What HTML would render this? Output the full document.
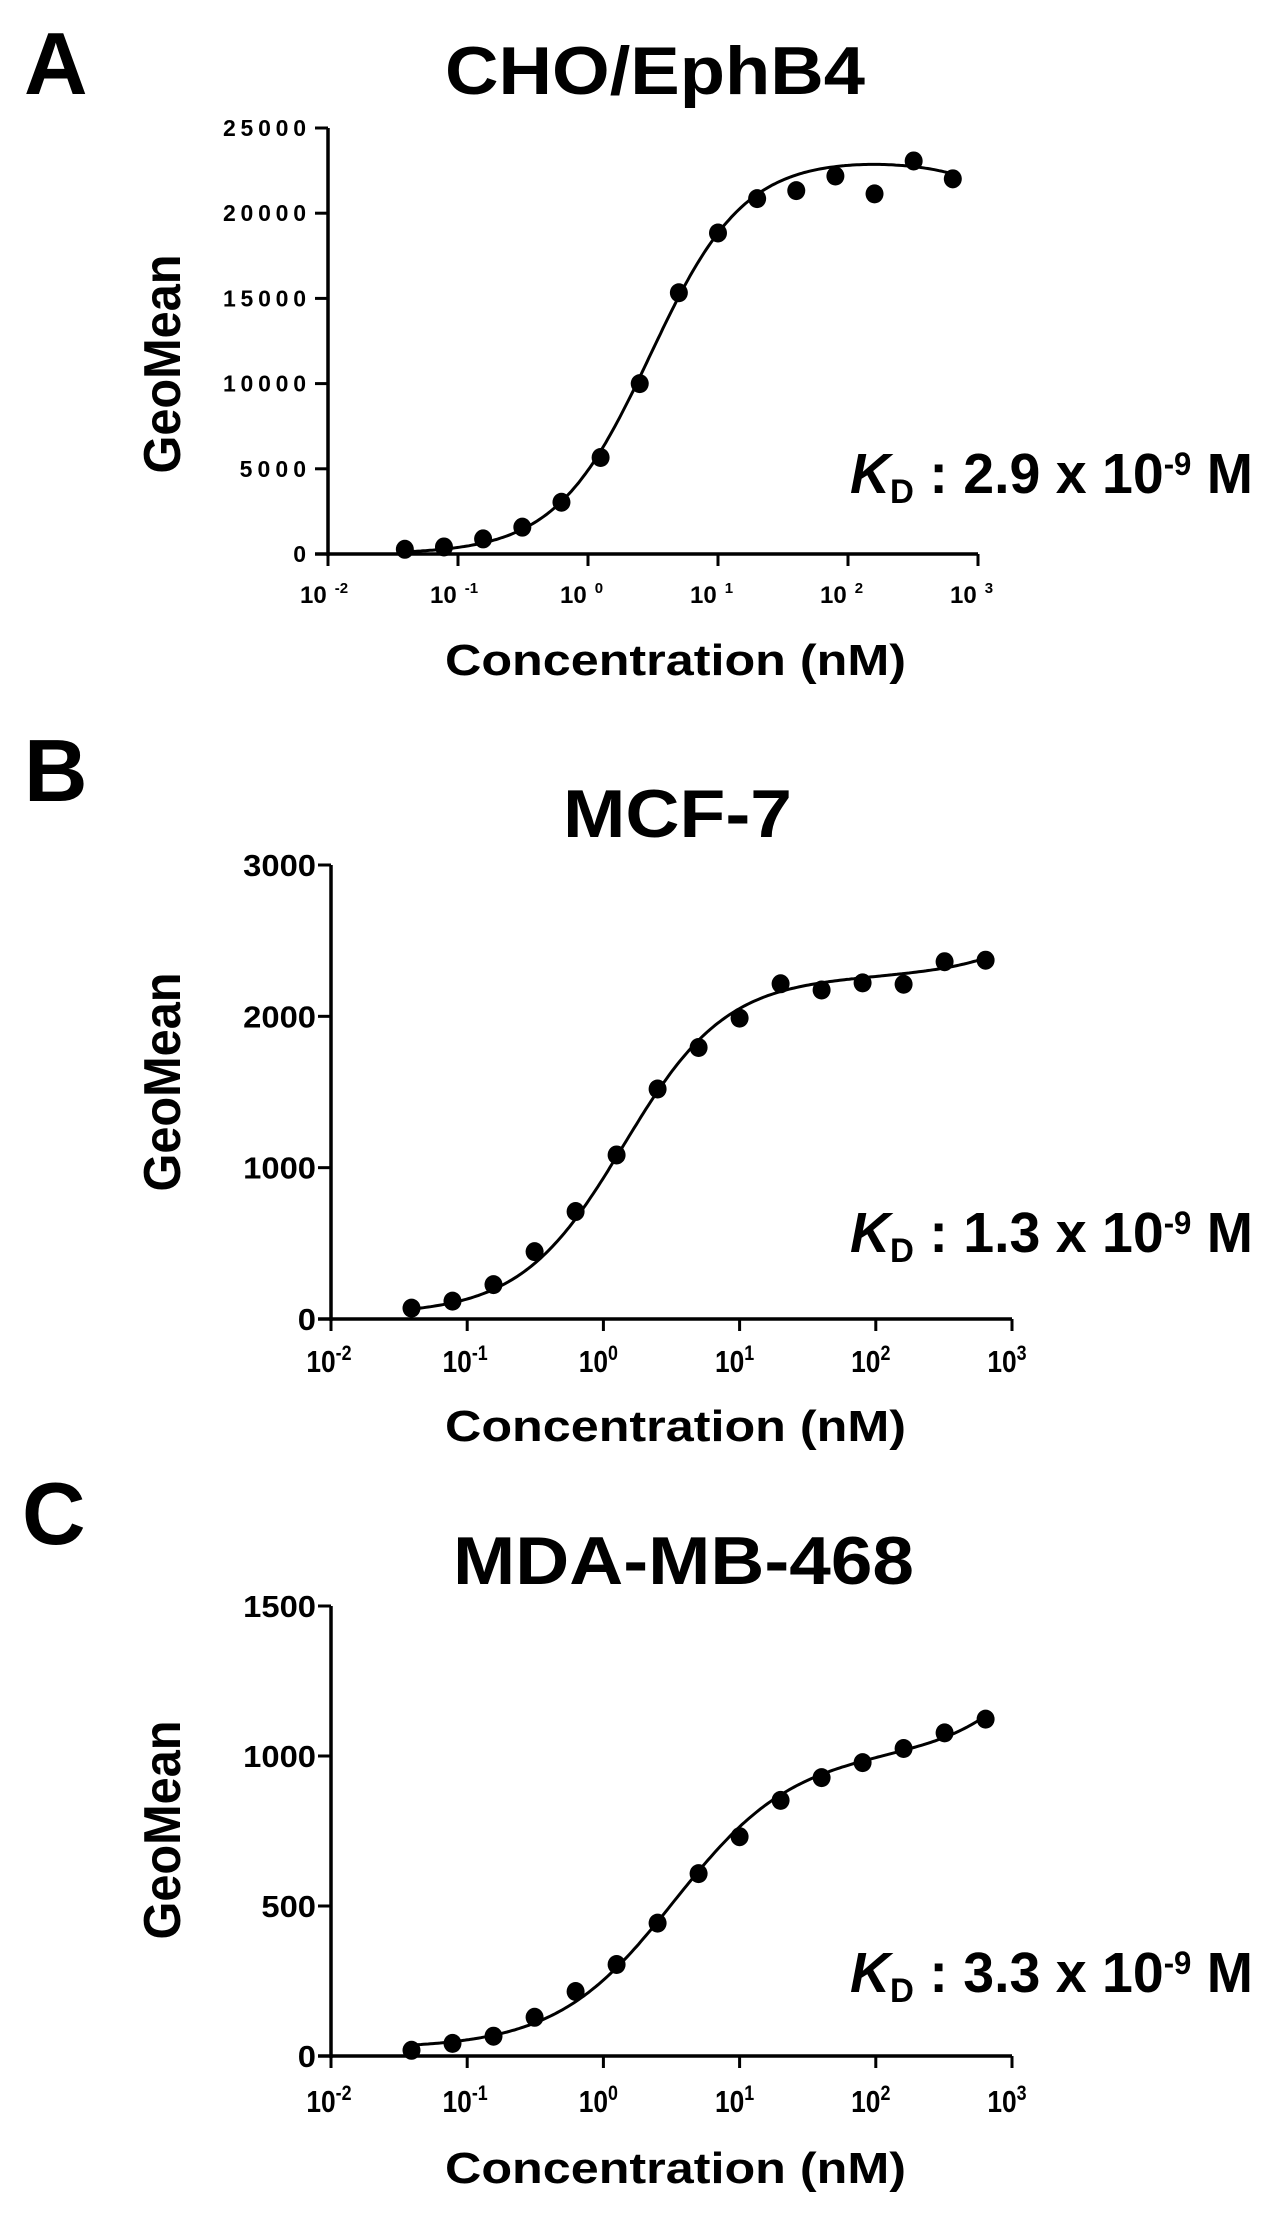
<!DOCTYPE html>
<html><head><meta charset="utf-8"><style>
html,body{margin:0;padding:0;background:#fff}
svg{display:block}
text{font-family:"Liberation Sans",sans-serif;font-weight:bold;fill:#000}
</style></head><body>
<svg id="fig" width="1279" height="2229" viewBox="0 0 1279 2229">
<text x="24" y="94" font-size="88">A</text>
<text x="24" y="801" font-size="88">B</text>
<text x="22" y="1544" font-size="88">C</text>
</svg>
<script>
// ---- data ----
const concA = [0.039,0.078,0.156,0.3125,0.625,1.25,2.5,5,10,20,40,80,160,320,640];
const valuesA = [276,414,884,1575,3039,5663,10000,15331,18840,20856,21326,22182,21133,23066,22017];
const concB = [0.039,0.078,0.156,0.3125,0.625,1.25,2.5,5,10,20,40,80,160,320,640];
const valuesB = [72,118,227,445,710,1084,1520,1794,1988,2215,2174,2221,2212,2361,2371];
const concC = [0.039,0.078,0.156,0.3125,0.625,1.25,2.5,5,10,20,40,80,160,320,640];
const valuesC = [19,42,66,129,215,305,443,608,731,852,928,978,1025,1077,1123];
const yTicksA = [0,5000,10000,15000,20000,25000];
const yTicksB = [0,1000,2000,3000];
const yTicksC = [0,500,1000,1500];
const xTickExps = [-2,-1,0,1,2,3];
const fitA = [0,23300,3.0,1.2,-1.5];   // bottom, top, K, hill, linear
const fitB = [30,2230,1.4,1.15,0.2];
const fitC = [25,980,3.3,1.0,0.21];
const titles = ["CHO/EphB4","MCF-7","MDA-MB-468"];
const kdValues = ["2.9","1.3","3.3"];

const NS='http://www.w3.org/2000/svg';
const svg=document.getElementById('fig');
function mk(tag,attrs,parent){const e=document.createElementNS(NS,tag);for(const k in attrs)e.setAttribute(k,attrs[k]);(parent||svg).appendChild(e);return e;}

const panels=[
 {conc:concA,vals:valuesA,ticks:yTicksA,fit:fitA,title:titles[0],kd:kdValues[0],
  x0:328,x1:978,y0:554,y1:128,styleA:true,titleX:445,titleW:420,titleY:94,
  gmY:364,xtY:603,xTitleY:675,kdY:493,name:'a'},
 {conc:concB,vals:valuesB,ticks:yTicksB,fit:fitB,title:titles[1],kd:kdValues[1],
  x0:331,x1:1012,y0:1319,y1:865,styleA:false,titleX:563,titleW:229,titleY:837,
  gmY:1082,xtY:1372,xTitleY:1441,kdY:1252,name:'b'},
 {conc:concC,vals:valuesC,ticks:yTicksC,fit:fitC,title:titles[2],kd:kdValues[2],
  x0:331,x1:1012,y0:2056,y1:1606,styleA:false,titleX:453,titleW:461,titleY:1584,
  gmY:1830,xtY:2112,xTitleY:2183,kdY:1992,name:'c'}
];

panels.forEach(p=>{
  const g=mk('g',{});
  
  
  const lmin=xTickExps[0], lmax=xTickExps[xTickExps.length-1];
  const ymax=p.ticks[p.ticks.length-1];
  const xs=c=>p.x0+(Math.log10(c)-lmin)/(lmax-lmin)*(p.x1-p.x0);
  const ys=v=>p.y0-(v/ymax)*(p.y0-p.y1);
  const t=mk('text',{x:p.titleX,y:p.titleY,'font-size':68,textLength:p.titleW,lengthAdjust:'spacingAndGlyphs'},g);
  t.textContent=p.title;
  
  
  const ya=mk('line',{x1:p.x0,y1:p.y1,x2:p.x0,y2:p.y0+2,stroke:'#000','stroke-width':3.5},g);
  
  
  const xa=mk('line',{x1:p.x0-13,y1:p.y0,x2:p.x1,y2:p.y0,stroke:'#000','stroke-width':3.5},g);
  
  
  p.ticks.forEach(v=>{
    const y=ys(v);
    mk('line',{x1:p.x0-13,y1:y,x2:p.x0,y2:y,stroke:'#000','stroke-width':3},g);
    const s=String(v);
    let lbl;
    if(p.styleA){
      lbl=mk('text',{x:p.x0-22,y:y+8,'font-size':23,'text-anchor':'end',textLength:s.length*16.6,lengthAdjust:'spacing'},g);
    } else {
      lbl=mk('text',{x:p.x0-15,y:y+11,'font-size':31,'text-anchor':'end',textLength:s.length*18.2,lengthAdjust:'spacingAndGlyphs'},g);
    }
    lbl.textContent=s;
    
    
  });
  xTickExps.forEach(e=>{
    const x=xs(Math.pow(10,e));
    mk('line',{x1:x,y1:p.y0,x2:x,y2:p.y0+12,stroke:'#000','stroke-width':3},g);
    let lbl;
    if(p.styleA){
      lbl=mk('text',{x:x-28,y:p.xtY,'font-size':24},g);
      const a=mk('tspan',{},lbl);a.textContent='10';
      const b=mk('tspan',{dx:8,dy:-10,'font-size':15},lbl);b.textContent=String(e);
    } else {
      lbl=mk('text',{x:x-29,y:p.xtY,'font-size':31,transform:`translate(${x},0) scale(0.85,1) translate(${-x},0)`},g);
      const a=mk('tspan',{},lbl);a.textContent='10';
      const b=mk('tspan',{dy:-12,'font-size':21},lbl);b.textContent=String(e);
    }
    
    
  });
  const yt=mk('text',{x:0,y:0,'font-size':52,'text-anchor':'middle',textLength:219,lengthAdjust:'spacingAndGlyphs',transform:`translate(180,${p.gmY}) rotate(-90)`},g);
  yt.textContent='GeoMean';
  
  
  const xt=mk('text',{x:445,y:p.xTitleY,'font-size':44,textLength:461,lengthAdjust:'spacingAndGlyphs'},g);
  xt.textContent='Concentration (nM)';
  
  
  const kd=mk('text',{x:850,y:p.kdY,'font-size':57,textLength:403,lengthAdjust:'spacingAndGlyphs'},g);
  const k1=mk('tspan',{'font-style':'italic'},kd);k1.textContent='K';
  const k2=mk('tspan',{dy:10,'font-size':34},kd);k2.textContent='D';
  const k3=mk('tspan',{dy:-10},kd);k3.textContent=' : '+p.kd+' x 10';
  const k4=mk('tspan',{dy:-18,'font-size':32},kd);k4.textContent='-9';
  const k5=mk('tspan',{dy:18},kd);k5.textContent=' M';
  
  
  const [b0,top,K,h,lin]=p.fit;
  const f=x=>b0+top*Math.pow(x,h)/(Math.pow(K,h)+Math.pow(x,h))+lin*x;
  const c0=p.conc[0], c1=p.conc[p.conc.length-1];
  let d='';
  for(let i=0;i<=240;i++){
    const c=Math.pow(10,Math.log10(c0)+(Math.log10(c1)-Math.log10(c0))*i/240);
    d+=(i?'L':'M')+xs(c).toFixed(1)+','+Math.min(p.y0,ys(f(c))).toFixed(1);
  }
  const curve=mk('path',{d:d,fill:'none',stroke:'#000','stroke-width':3},g);
  
  
  p.conc.forEach((c,i)=>{
    const pt=mk('ellipse',{cx:xs(c),cy:ys(p.vals[i]),rx:9,ry:9.5,fill:'#000'},g);
    
    
  });
});
</script>
</body></html>
